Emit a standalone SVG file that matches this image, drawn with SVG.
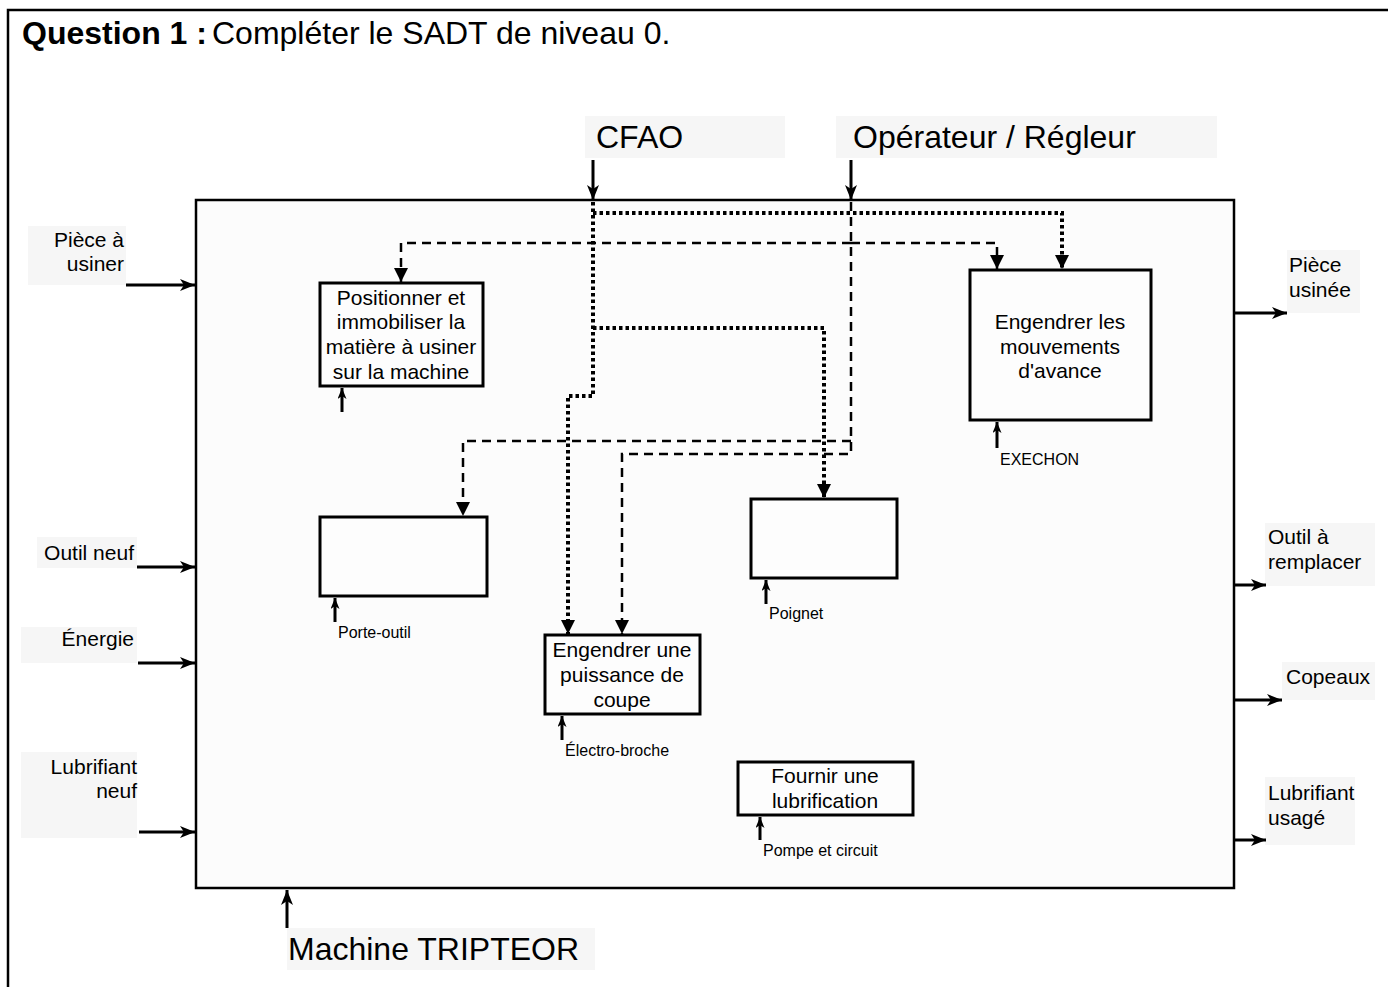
<svg xmlns="http://www.w3.org/2000/svg" width="1388" height="987" viewBox="0 0 1388 987">
<style>
text{font-family:"Liberation Sans",Arial,sans-serif;fill:#000}
.big{font-size:32px}
.mid{font-size:21px}
.sm{font-size:16px}
.bg{fill:#f6f6f6}
.box{fill:#fdfdfd;stroke:#000;stroke-width:3}
.io{stroke:#000;stroke-width:3;fill:none}
.dash{stroke:#000;stroke-width:2.5;fill:none;stroke-dasharray:9 6}
.dot{stroke:#000;stroke-width:4;fill:none;stroke-dasharray:3.5 3}
.ctl{stroke:#000;stroke-width:3;fill:none}
</style>
<defs>
<marker id="st" markerUnits="userSpaceOnUse" markerWidth="16" markerHeight="14" refX="15" refY="6" orient="auto">
<path d="M0,0 L15,6 L0,12 L4,6 z" fill="#000"/>
</marker>
<marker id="tri" markerUnits="userSpaceOnUse" markerWidth="16" markerHeight="16" refX="14" refY="7" orient="auto">
<path d="M0,0 L14,7 L0,14 z" fill="#000"/>
</marker>
<marker id="sm" markerUnits="userSpaceOnUse" markerWidth="12" markerHeight="10" refX="11" refY="4.5" orient="auto">
<path d="M0,0 L11,4.5 L0,9 L3,4.5 z" fill="#000"/>
</marker>
</defs>
<rect width="1388" height="987" fill="#fff"/>
<path d="M8,987 V10 H1388" fill="none" stroke="#000" stroke-width="2.5"/>
<g id="title">
<text x="22" y="44" class="big" font-weight="bold">Question 1 :</text>
<text x="212" y="44" class="big">Compléter le SADT de niveau 0.</text>
</g>
<g id="main">
<rect x="196" y="200" width="1038" height="688" fill="#fcfcfc" stroke="#000" stroke-width="2.5"/>
</g>
<g id="labels">
<rect class="bg" x="585" y="116" width="200" height="42"/>
<text x="596" y="148" class="big">CFAO</text>
<rect class="bg" x="836" y="116" width="381" height="42"/>
<text x="853" y="148" class="big">Opérateur / Régleur</text>
<rect class="bg" x="287" y="928" width="308" height="42"/>
<text x="288" y="960" class="big">Machine TRIPTEOR</text>
<rect class="bg" x="28" y="226" width="98" height="59"/>
<text x="124" y="247" class="mid" text-anchor="end">Pièce à</text>
<text x="124" y="271" class="mid" text-anchor="end">usiner</text>
<rect class="bg" x="37" y="537" width="100" height="31"/>
<text x="134" y="560" class="mid" text-anchor="end">Outil neuf</text>
<rect class="bg" x="21" y="627" width="116" height="36"/>
<text x="134" y="646" class="mid" text-anchor="end">Énergie</text>
<rect class="bg" x="21" y="752" width="116" height="86"/>
<text x="137" y="774" class="mid" text-anchor="end">Lubrifiant</text>
<text x="137" y="798" class="mid" text-anchor="end">neuf</text>
<rect class="bg" x="1287" y="250" width="73" height="63"/>
<text x="1289" y="272" class="mid">Pièce</text>
<text x="1289" y="297" class="mid">usinée</text>
<rect class="bg" x="1265" y="523" width="110" height="63"/>
<text x="1268" y="544" class="mid">Outil à</text>
<text x="1268" y="569" class="mid">remplacer</text>
<rect class="bg" x="1282" y="662" width="93" height="38"/>
<text x="1286" y="684" class="mid">Copeaux</text>
<rect class="bg" x="1265" y="777" width="90" height="68"/>
<text x="1268" y="800" class="mid">Lubrifiant</text>
<text x="1268" y="825" class="mid">usagé</text>
</g>
<g id="connectors">
<path class="io" d="M593,160 V200" marker-end="url(#st)"/>
<path class="io" d="M851,160 V200" marker-end="url(#st)"/>
<path class="io" d="M126,285 H195" marker-end="url(#st)"/>
<path class="io" d="M137,567 H195" marker-end="url(#st)"/>
<path class="io" d="M138,663 H195" marker-end="url(#st)"/>
<path class="io" d="M139,832 H195" marker-end="url(#st)"/>
<path class="io" d="M1235,313 H1287" marker-end="url(#st)"/>
<path class="io" d="M1235,585 H1266" marker-end="url(#st)"/>
<path class="io" d="M1235,700 H1282" marker-end="url(#st)"/>
<path class="io" d="M1235,840 H1266" marker-end="url(#st)"/>
<path class="io" d="M287,928 V890" marker-end="url(#st)"/>
<path class="dot" d="M593,202 V396 H568 V634" marker-end="url(#tri)"/>
<path class="dot" d="M593,213 H1062 V269" marker-end="url(#tri)"/>
<path class="dot" d="M593,328 H824 V498" marker-end="url(#tri)"/>
<path class="dash" d="M851,202 V454 H622 V634" marker-end="url(#tri)"/>
<path class="dash" d="M851,441 H463 V516" marker-end="url(#tri)"/>
<path class="dash" d="M851,243 H401 V282" marker-end="url(#tri)"/>
<path class="dash" d="M851,243 H997 V269" marker-end="url(#tri)"/>
<path class="ctl" d="M342,412 V388" marker-end="url(#sm)"/>
<path class="ctl" d="M335,622 V598" marker-end="url(#sm)"/>
<path class="ctl" d="M562,740 V716" marker-end="url(#sm)"/>
<path class="ctl" d="M766,604 V580" marker-end="url(#sm)"/>
<path class="ctl" d="M997,448 V422" marker-end="url(#sm)"/>
<path class="ctl" d="M760,840 V817" marker-end="url(#sm)"/>
</g>
<g id="n-positionner">
<rect class="box" x="320" y="283" width="163" height="103"/>
<text x="401" y="305" class="mid" text-anchor="middle">Positionner et</text>
<text x="401" y="329" class="mid" text-anchor="middle">immobiliser la</text>
<text x="401" y="354" class="mid" text-anchor="middle">matière à usiner</text>
<text x="401" y="379" class="mid" text-anchor="middle">sur la machine</text>
</g>
<g id="n-porte-outil">
<rect class="box" x="320" y="517" width="167" height="79"/>
<text x="338" y="638" class="sm">Porte-outil</text>
</g>
<g id="n-puissance">
<rect class="box" x="545" y="635" width="155" height="79"/>
<text x="622" y="657" class="mid" text-anchor="middle">Engendrer une</text>
<text x="622" y="682" class="mid" text-anchor="middle">puissance de</text>
<text x="622" y="707" class="mid" text-anchor="middle">coupe</text>
<text x="565" y="756" class="sm">Électro-broche</text>
</g>
<g id="n-poignet">
<rect class="box" x="751" y="499" width="146" height="79"/>
<text x="769" y="619" class="sm">Poignet</text>
</g>
<g id="n-mouvements">
<rect class="box" x="970" y="270" width="181" height="150"/>
<text x="1060" y="329" class="mid" text-anchor="middle">Engendrer les</text>
<text x="1060" y="354" class="mid" text-anchor="middle">mouvements</text>
<text x="1060" y="378" class="mid" text-anchor="middle">d'avance</text>
<text x="1000" y="465" class="sm">EXECHON</text>
</g>
<g id="n-lubrification">
<rect class="box" x="738" y="762" width="175" height="53"/>
<text x="825" y="783" class="mid" text-anchor="middle">Fournir une</text>
<text x="825" y="808" class="mid" text-anchor="middle">lubrification</text>
<text x="763" y="856" class="sm">Pompe et circuit</text>
</g>
</svg>
